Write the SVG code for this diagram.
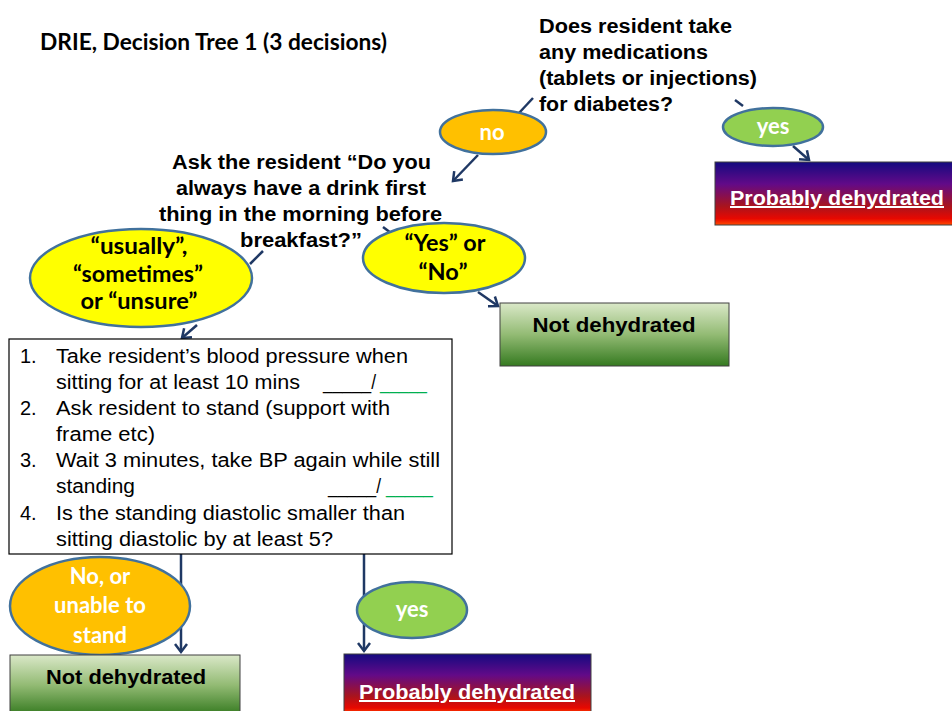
<svg xmlns="http://www.w3.org/2000/svg" width="952" height="711" viewBox="0 0 952 711">
<defs>
<style>
.q{font-family:"Liberation Sans",Arial,sans-serif;font-weight:bold;font-size:20px;fill:#000}
.c{font-family:Lato,"Liberation Sans",sans-serif;font-weight:bold;font-size:22px}
.w{fill:#fff}
.b{font-family:"Liberation Sans",Arial,sans-serif;font-size:20px;fill:#000}
.g{fill:#00B050}
.ell{stroke:#41719C;stroke-width:2.5}
.conn{stroke:#1F3864;stroke-width:2.5;fill:none}
.out{font-family:"Liberation Sans",Arial,sans-serif;font-weight:bold;font-size:20px;text-anchor:middle}
</style>
<linearGradient id="red" x1="0" y1="0" x2="0" y2="1">
<stop offset="0" stop-color="#140a80"/>
<stop offset="0.35" stop-color="#620a88"/>
<stop offset="0.7" stop-color="#a8141e"/>
<stop offset="0.9" stop-color="#e80800"/>
<stop offset="1" stop-color="#ff4a00"/>
</linearGradient>
<linearGradient id="green" x1="0" y1="0" x2="0" y2="1">
<stop offset="0" stop-color="#dae8c8"/>
<stop offset="0.5" stop-color="#93bb74"/>
<stop offset="1" stop-color="#357a20"/>
</linearGradient>
<marker id="arr" markerUnits="userSpaceOnUse" markerWidth="16" markerHeight="16" viewBox="-10 -8 12 16" refX="0" refY="0" orient="auto">
<path d="M-8,-6 L0,0 L-8,6" fill="none" stroke="#1F3864" stroke-width="2.5"/>
</marker>
</defs>
<rect width="952" height="711" fill="#fff"/>

<g id="title">
<text x="40" y="50" class="c" textLength="347" lengthAdjust="spacingAndGlyphs" fill="#000">DRIE, Decision Tree 1 (3 decisions)</text>
</g>

<g id="connectors">
<line class="conn" x1="533" y1="98" x2="519" y2="113"/>
<line class="conn" x1="478" y1="155" x2="453" y2="181" marker-end="url(#arr)"/>
<line class="conn" x1="735" y1="100" x2="743" y2="106"/>
<line class="conn" x1="793" y1="146" x2="809" y2="160" marker-end="url(#arr)"/>
<line class="conn" x1="263" y1="251" x2="250" y2="264"/>
<line class="conn" x1="197" y1="325" x2="182" y2="338" marker-end="url(#arr)"/>
<line class="conn" x1="383" y1="227" x2="391" y2="233"/>
<line class="conn" x1="478" y1="292" x2="498" y2="306" marker-end="url(#arr)"/>
<line class="conn" x1="181" y1="554" x2="181" y2="652" marker-end="url(#arr)"/>
<line class="conn" x1="364" y1="554" x2="364" y2="651" marker-end="url(#arr)"/>
</g>

<g id="q1">
<text class="q" x="539" y="33" textLength="193" lengthAdjust="spacingAndGlyphs">Does resident take</text>
<text class="q" x="539" y="59" textLength="169" lengthAdjust="spacingAndGlyphs">any medications</text>
<text class="q" x="539" y="85" textLength="218" lengthAdjust="spacingAndGlyphs">(tablets or injections)</text>
<text class="q" x="539" y="111" textLength="134" lengthAdjust="spacingAndGlyphs">for diabetes?</text>
</g>

<g id="no1">
<ellipse cx="493" cy="132" rx="53" ry="22" fill="#FFC000" class="ell"/>
<text class="c w" x="492" y="140" text-anchor="middle">no</text>
</g>

<g id="yes1">
<ellipse cx="773" cy="127" rx="50" ry="19" fill="#92D050" class="ell"/>
<text class="c w" x="773" y="134" text-anchor="middle">yes</text>
</g>

<g id="probably1">
<rect x="715" y="162" width="240" height="63" fill="url(#red)" stroke="#404040" stroke-width="1"/>
<text class="out" x="837" y="205" fill="#fff" text-decoration="underline" textLength="214" lengthAdjust="spacingAndGlyphs">Probably dehydrated</text>
</g>

<g id="q2">
<text class="q" x="172" y="169" textLength="259" lengthAdjust="spacingAndGlyphs">Ask the resident “Do you</text>
<text class="q" x="176" y="195" textLength="250" lengthAdjust="spacingAndGlyphs">always  have a drink first</text>
<text class="q" x="159" y="221" textLength="283" lengthAdjust="spacingAndGlyphs">thing in the morning before</text>
<text class="q" x="240" y="247" textLength="122" lengthAdjust="spacingAndGlyphs">breakfast?”</text>
</g>

<g id="usually">
<ellipse cx="141" cy="278" rx="111" ry="49" fill="#FFFF00" class="ell"/>
<text class="c" x="139" y="254" text-anchor="middle" textLength="97" lengthAdjust="spacingAndGlyphs">“usually”,</text>
<text class="c" x="138" y="282" text-anchor="middle" textLength="130" lengthAdjust="spacingAndGlyphs">“sometimes”</text>
<text class="c" x="139" y="309" text-anchor="middle" textLength="117" lengthAdjust="spacingAndGlyphs">or “unsure”</text>
</g>

<g id="yesno">
<ellipse cx="444" cy="258" rx="81" ry="35" fill="#FFFF00" class="ell"/>
<text class="c" x="445" y="251" text-anchor="middle" textLength="81" lengthAdjust="spacingAndGlyphs">“Yes” or</text>
<text class="c" x="443" y="280" text-anchor="middle" textLength="49" lengthAdjust="spacingAndGlyphs">“No”</text>
</g>

<g id="notdehyd1">
<rect x="500" y="303" width="229" height="63" fill="url(#green)" stroke="#404040" stroke-width="1"/>
<text class="out" x="614" y="332" fill="#000" textLength="163" lengthAdjust="spacingAndGlyphs">Not dehydrated</text>
</g>

<g id="steps">
<rect x="9" y="339" width="443" height="215" fill="#fff" stroke="#000" stroke-width="1.2"/>
<text class="b" x="20" y="363">1.</text>
<text class="b" x="56" y="363" textLength="352" lengthAdjust="spacingAndGlyphs">Take resident’s blood pressure when</text>
<text class="b" x="56" y="389" textLength="244" lengthAdjust="spacingAndGlyphs">sitting for at least 10 mins</text>
<text class="b" x="323" y="389" textLength="53" lengthAdjust="spacingAndGlyphs">_____/</text>
<text class="b g" x="380" y="389" textLength="47" lengthAdjust="spacingAndGlyphs">_____</text>
<text class="b" x="20" y="415">2.</text>
<text class="b" x="56" y="415" textLength="334" lengthAdjust="spacingAndGlyphs">Ask resident to stand (support with</text>
<text class="b" x="56" y="441" textLength="99" lengthAdjust="spacingAndGlyphs">frame etc)</text>
<text class="b" x="20" y="467">3.</text>
<text class="b" x="56" y="467" textLength="384" lengthAdjust="spacingAndGlyphs">Wait 3 minutes, take BP again while still</text>
<text class="b" x="56" y="493" textLength="79" lengthAdjust="spacingAndGlyphs">standing</text>
<text class="b" x="328" y="493" textLength="53" lengthAdjust="spacingAndGlyphs">_____/</text>
<text class="b g" x="386" y="493" textLength="47" lengthAdjust="spacingAndGlyphs">_____</text>
<text class="b" x="20" y="520">4.</text>
<text class="b" x="56" y="520" textLength="349" lengthAdjust="spacingAndGlyphs">Is the standing diastolic smaller than</text>
<text class="b" x="56" y="546" textLength="277" lengthAdjust="spacingAndGlyphs">sitting diastolic by at least 5?</text>
</g>

<g id="no2">
<ellipse cx="100" cy="606" rx="90" ry="49" fill="#FFC000" class="ell"/>
<text class="c w" x="100" y="584" text-anchor="middle">No, or</text>
<text class="c w" x="100" y="613" text-anchor="middle">unable to</text>
<text class="c w" x="100" y="643" text-anchor="middle">stand</text>
</g>

<g id="yes2">
<ellipse cx="412" cy="610" rx="55" ry="28" fill="#92D050" class="ell"/>
<text class="c w" x="412" y="617" text-anchor="middle">yes</text>
</g>

<g id="notdehyd2">
<rect x="10" y="655" width="230" height="60" fill="url(#green)" stroke="#404040" stroke-width="1"/>
<text class="out" x="126" y="684" fill="#000" textLength="160" lengthAdjust="spacingAndGlyphs">Not dehydrated</text>
</g>

<g id="probably2">
<rect x="344" y="654" width="247" height="60" fill="url(#red)" stroke="#404040" stroke-width="1"/>
<text class="out" x="467" y="699" fill="#fff" text-decoration="underline" textLength="216" lengthAdjust="spacingAndGlyphs">Probably dehydrated</text>
</g>
</svg>
